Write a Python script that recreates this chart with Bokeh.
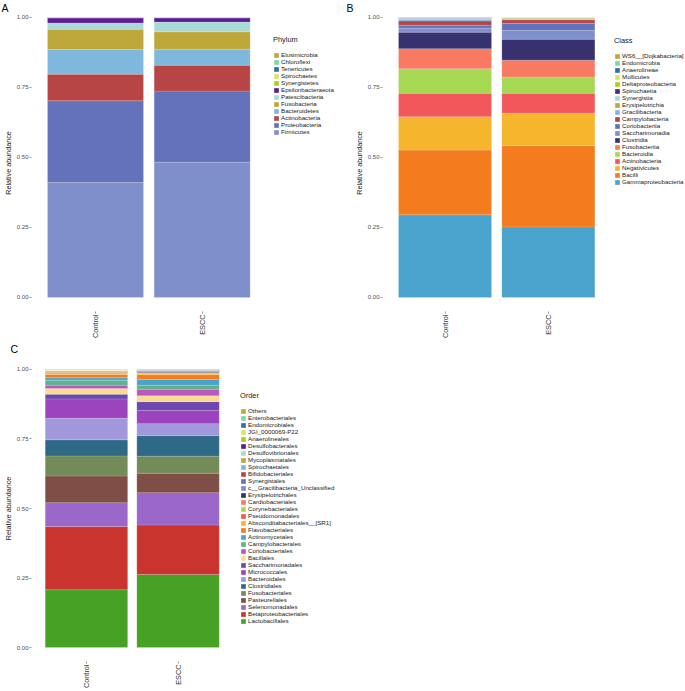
from math import pi
from bokeh.plotting import figure
from bokeh.models import (Range1d, FixedTicker, Legend, LegendItem,
                          ColumnDataSource, NumeralTickFormatter)
from bokeh.layouts import column, row
from bokeh.embed import file_html
from bokeh.resources import INLINE

FONT = "Liberation Sans"

groups = ["Control", "ESCC"]
y_ticks = [0.0, 0.25, 0.5, 0.75, 1.0]

# ---------------- Panel A: Phylum (legend order, top to bottom) ----------------
phylum_names = ["Elusimicrobia", "Chloroflexi", "Tenericutes", "Spirochaetes",
                "Synergistetes", "Epsilonbacteraeota", "Patescibacteria",
                "Fusobacteria", "Bacteroidetes", "Actinobacteria",
                "Proteobacteria", "Firmicutes"]
phylum_colors = ["#BFA93A", "#7FD6A0", "#2E6FA8", "#D9E85A", "#A8CF1A", "#5B1D95",
                 "#A9DAD8", "#BFA83A", "#7FB8DC", "#B84545", "#6472BC", "#7F8FCB"]
phylum_control = [0.0006, 0.0003, 0.0003, 0.0003, 0.0005, 0.018, 0.023,
                  0.072, 0.088, 0.095, 0.292, 0.410]
phylum_escc = [0.0005, 0.0003, 0.0004, 0.0003, 0.0005, 0.015, 0.035,
               0.062, 0.057, 0.092, 0.254, 0.483]

# ---------------- Panel B: Class ----------------
class_names = ["WS6__[Dojkabacteria]", "Endomicrobia", "Anaerolineae", "Mollicutes",
               "Deltaproteobacteria", "Spirochaetia", "Synergistia", "Erysipelotrichia",
               "Gracilibacteria", "Campylobacteria", "Coriobacteriia", "Saccharimonadia",
               "Clostridia", "Fusobacteriia", "Bacteroidia", "Actinobacteria",
               "Negativicutes", "Bacilli", "Gammaproteobacteria"]
class_colors = ["#BFA93A", "#7FD6A0", "#2E6FA8", "#D9E85A", "#A8CF1A", "#5B1D95",
                "#A9DAD8", "#BFA83A", "#7FB8DC", "#B84545", "#6472BC", "#7F8FCB",
                "#373170", "#F97A62", "#A6D853", "#F2575B", "#F5B52C", "#F27C1E",
                "#4AA3CC"]
class_control = [0.0005, 0.0005, 0.0005, 0.0005, 0.0005, 0.0005, 0.003, 0.002,
                 0.005, 0.015, 0.011, 0.014, 0.059, 0.072, 0.087, 0.084,
                 0.119, 0.231, 0.295]
class_escc = [0.0005, 0.0003, 0.0003, 0.0003, 0.0003, 0.0003, 0.001, 0.005,
              0.001, 0.013, 0.025, 0.031, 0.075, 0.060, 0.058, 0.071,
              0.116, 0.290, 0.252]

# ---------------- Panel C: Order ----------------
order_names = ["Others", "Enterobacteriales", "Endomicrobiales", "JGI_0000069-P22",
               "Anaerolineales", "Desulfobacterales", "Desulfovibrionales",
               "Mycoplasmatales", "Spirochaetales", "Bifidobacteriales", "Synergistales",
               "c__Gracilibacteria_Unclassified", "Erysipelotrichales",
               "Cardiobacteriales", "Corynebacteriales", "Pseudomonadales",
               "Absconditabacteriales__[SR1]", "Flavobacteriales", "Actinomycetales",
               "Campylobacterales", "Coriobacteriales", "Bacillales",
               "Saccharimonadales", "Micrococcales", "Bacteroidales", "Clostridiales",
               "Fusobacteriales", "Pasteurellales", "Selenomonadales",
               "Betaproteobacteriales", "Lactobacillales"]
order_colors = ["#BFA93A", "#7FD6A0", "#2E6FA8", "#D9E85A", "#A8CF1A", "#5B1D95",
                "#A9DAD8", "#BFA83A", "#7FB8DC", "#B84545", "#6472BC", "#7F8FCB",
                "#373170", "#F97A62", "#A6D853", "#F2575B", "#F5B52C", "#F27C1E",
                "#4AA3CC", "#5DB28A", "#BE56C2", "#F8DD90", "#6B47AF", "#9B44BE",
                "#A197DB", "#2E6A86", "#738B58", "#7F4E47", "#9B67CB", "#C9342E",
                "#46A125"]
order_control = [0.0015, 0.0005, 0.0003, 0.0003, 0.0003, 0.0003, 0.0005, 0.0005,
                 0.0005, 0.0008, 0.0005, 0.001, 0.001, 0.001, 0.001, 0.003,
                 0.005, 0.012, 0.009, 0.018, 0.012, 0.020, 0.017, 0.070,
                 0.077, 0.058, 0.072, 0.096, 0.086, 0.227, 0.208]
order_escc = [0.002, 0.0005, 0.0003, 0.0003, 0.0003, 0.0003, 0.0005, 0.0005,
              0.0005, 0.0008, 0.0005, 0.0005, 0.004, 0.001, 0.001, 0.001,
              0.005, 0.017, 0.021, 0.014, 0.024, 0.021, 0.031, 0.048,
              0.043, 0.074, 0.061, 0.070, 0.116, 0.178, 0.263]


def make_panel(names, colors, ctrl, escc, title, letter, width, height,
               borders, x_rng, y_rng, legend_loc, letter_offset):
    bl, br, bt, bb = borders
    p = figure(width=width, height=height, output_backend="svg",
               toolbar_location=None, x_range=Range1d(*x_rng),
               y_range=Range1d(*y_rng), min_border_left=bl, min_border_right=br,
               min_border_top=bt, min_border_bottom=bb)
    p.outline_line_color = None
    p.xgrid.visible = False
    p.ygrid.visible = False
    p.background_fill_color = "white"

    # panel letter as the plot title
    p.title.text = letter
    p.title.align = "left"
    p.title.vertical_align = "middle"
    p.title.offset = letter_offset
    p.title.standoff = 0
    p.title.text_font = FONT
    p.title.text_font_size = "10.5px"
    p.title.text_font_style = "normal"
    p.title.text_color = "black"

    data = {"x": [i + 1 for i in range(len(groups))]}
    for n, a, b in zip(names, ctrl, escc):
        data[n] = [a, b]
    src = ColumnDataSource(data)
    stack_names = list(reversed(names))
    stack_colors = list(reversed(colors))
    rends = p.vbar_stack(stackers=stack_names, x="x", width=0.9, source=src,
                         fill_color=stack_colors, line_color="white",
                         line_width=0.3, line_alpha=0.5)
    rmap = dict(zip(stack_names, rends))

    # axes
    p.xaxis.ticker = FixedTicker(ticks=data["x"])
    p.xaxis.major_label_overrides = {i + 1: g for i, g in enumerate(groups)}
    p.xaxis.major_label_orientation = pi / 2
    p.yaxis.ticker = FixedTicker(ticks=y_ticks)
    p.yaxis.formatter = NumeralTickFormatter(format="0.00")
    for ax in (p.xaxis, p.yaxis):
        ax.axis_line_color = None
        ax.major_tick_in = 0
        ax.major_tick_out = 2
        ax.major_tick_line_color = "#555555"
        ax.major_tick_line_width = 0.6
        ax.minor_tick_line_color = None
        ax.major_label_text_font = FONT
        ax.major_label_text_color = "#4d4d4d"
        ax.major_label_standoff = 1
    p.xaxis.major_label_text_font_size = "7.3px"
    p.xaxis.major_label_text_color = "#333333"
    p.yaxis.major_label_text_font_size = "6px"
    p.yaxis.axis_label = "Relative abundance"
    p.yaxis.axis_label_text_font = FONT
    p.yaxis.axis_label_text_font_size = "7.2px"
    p.yaxis.axis_label_text_font_style = "normal"
    p.yaxis.axis_label_text_color = "#1a1a1a"
    p.yaxis.axis_label_standoff = 1

    items = [LegendItem(label=n, renderers=[rmap[n]]) for n in names]
    leg = Legend(items=items, location=legend_loc, title=title,
                 label_text_font=FONT, label_text_font_size="6.2px",
                 label_text_color="#1a1a1a", label_height=7, glyph_height=6,
                 glyph_width=6, label_standoff=2, spacing=0, padding=0, margin=0,
                 border_line_color=None, background_fill_alpha=0,
                 title_text_font=FONT, title_text_font_size="7.4px",
                 title_text_font_style="normal", title_text_color="#1a1a1a",
                 title_standoff=7)
    p.add_layout(leg)
    return p


# frames extend to the right edge so that the legend sits inside the frame
pA = make_panel(phylum_names, phylum_colors, phylum_control, phylum_escc, "Phylum", "A",
                340, 341, (31, 0, 14, 29), (0.4, 3.297), (-0.05, 1.01),
                (242, 176), -30)
pB = make_panel(class_names, class_colors, class_control, class_escc, "Class", "B",
                345, 341, (42, 0, 14, 29), (0.395, 3.327), (-0.05, 1.01),
                (232, 126), -36)
pC = make_panel(order_names, order_colors, order_control, order_escc, "Order", "C",
                360, 350, (31, 0, 14, 28), (0.4, 3.992), (-0.05, 1.05),
                (209, 37), -21)

layout = column(row(pA, pB), pC)
open("out.html", "w").write(file_html(layout, INLINE))
